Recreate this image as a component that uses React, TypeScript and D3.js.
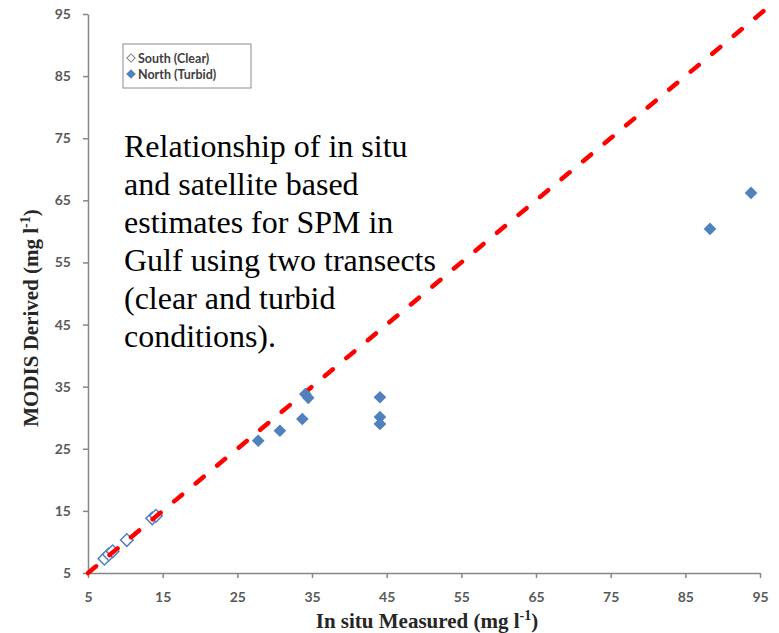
import React, { useEffect, useRef } from 'react';
import * as d3 from 'd3';

// South (clear) transect: in situ vs MODIS
const southInSitu = [7.2, 7.8, 8.3, 10.2, 13.6, 14.1];
const southModis = [7.3, 8.0, 8.5, 10.3, 13.8, 14.2];

// North (turbid) transect
const northInSitu = [27.8, 30.7, 33.7, 34.1, 34.5, 44.1, 44.1, 44.1, 88.3, 93.8];
const northModis = [26.3, 27.9, 29.8, 33.8, 33.2, 33.3, 30.1, 29.0, 60.4, 66.2];

const tickValues = [5, 15, 25, 35, 45, 55, 65, 75, 85, 95];
const oneToOne = [5, 96.6];

const noteLines = [
  'Relationship of in situ',
  'and satellite based',
  'estimates for SPM in',
  'Gulf using two transects',
  '(clear and turbid',
  'conditions).',
];

const legendLabels = ['South (Clear)', 'North (Turbid)'];

const App = () => {
  const svgRef = useRef(null);
  const width = 779;
  const height = 633;

  useEffect(() => {
    const svg = d3.select(svgRef.current);
    svg.selectAll('*').remove();

    const x = d3.scaleLinear().domain([5, 95]).range([88, 760]);
    const y = d3.scaleLinear().domain([5, 95]).range([573, 14]);
    const axisColor = '#868686';
    const blue = '#4F81BD';
    const tickFont = 'Lato, "Open Sans", sans-serif';
    const serif = '"Liberation Serif", "Times New Roman", serif';

    // x axis
    const xAxis = svg.append('g')
      .attr('transform', `translate(0, ${y(5)})`)
      .call(d3.axisBottom(x).tickValues(tickValues).tickSize(5).tickPadding(14).tickSizeOuter(0));
    xAxis.select('.domain').attr('stroke', axisColor).attr('stroke-width', 1.5);
    xAxis.selectAll('line').attr('stroke', axisColor).attr('stroke-width', 1.5);
    xAxis.selectAll('text').attr('fill', '#595959').attr('font-family', tickFont).attr('font-size', 14).attr('font-weight', 'bold');

    // y axis
    const yAxis = svg.append('g')
      .attr('transform', `translate(${x(5)}, 0)`)
      .call(d3.axisLeft(y).tickValues(tickValues).tickSize(5).tickPadding(12).tickSizeOuter(0));
    yAxis.select('.domain').attr('stroke', axisColor).attr('stroke-width', 1.5);
    yAxis.selectAll('line').attr('stroke', axisColor).attr('stroke-width', 1.5);
    yAxis.selectAll('text').attr('fill', '#595959').attr('font-family', tickFont).attr('font-size', 14).attr('font-weight', 'bold');

    // diamond = square turned 45 degrees
    const diamond = d3.symbol().type(d3.symbolSquare).size(80);

    // South (open diamonds)
    svg.append('g')
      .selectAll('path')
      .data(southInSitu)
      .join('path')
      .attr('d', diamond)
      .attr('transform', (d, i) => `translate(${x(d)}, ${y(southModis[i])}) rotate(45)`)
      .attr('fill', '#fff')
      .attr('stroke', blue)
      .attr('stroke-width', 1.5);

    // 1:1 line
    svg.append('line')
      .attr('x1', x(oneToOne[0]))
      .attr('y1', y(oneToOne[0]))
      .attr('x2', x(oneToOne[1]))
      .attr('y2', y(oneToOne[1]))
      .attr('stroke', '#FF0000')
      .attr('stroke-width', 4.5)
      .attr('stroke-linecap', 'round')
      .attr('stroke-dasharray', '10.5 17.5');

    // North (filled diamonds)
    svg.append('g')
      .selectAll('path')
      .data(northInSitu)
      .join('path')
      .attr('d', diamond)
      .attr('transform', (d, i) => `translate(${x(d)}, ${y(northModis[i])}) rotate(45)`)
      .attr('fill', blue);

    // legend
    const legend = svg.append('g');
    legend.append('rect')
      .attr('x', 123).attr('y', 44).attr('width', 128).attr('height', 44)
      .attr('fill', '#fff').attr('stroke', '#8c8c8c').attr('stroke-width', 1);
    legendLabels.forEach((label, i) => {
      const ly = 58 + i * 16;
      legend.append('path')
        .attr('d', d3.symbol().type(d3.symbolSquare).size(34))
        .attr('transform', `translate(131, ${ly}) rotate(45)`)
        .attr('fill', i === 0 ? '#fff' : blue)
        .attr('stroke', i === 0 ? '#7f7f7f' : blue)
        .attr('stroke-width', 1);
      legend.append('text')
        .attr('x', 138).attr('y', ly + 4.5)
        .attr('font-family', tickFont).attr('font-size', 12.5).attr('font-weight', 'bold')
        .attr('fill', '#404040')
        .text(label);
    });

    // annotation
    const note = svg.append('text')
      .attr('font-family', serif)
      .attr('font-size', 32)
      .attr('fill', '#000');
    noteLines.forEach((line, i) => {
      note.append('tspan').attr('x', 124).attr('y', 157 + i * 38).text(line);
    });

    // axis titles
    const xTitle = svg.append('text')
      .attr('x', 427).attr('y', 628)
      .attr('text-anchor', 'middle')
      .attr('font-family', serif).attr('font-size', 21).attr('font-weight', 'bold')
      .attr('fill', '#262626');
    xTitle.append('tspan').text('In situ Measured (mg l');
    xTitle.append('tspan').attr('dy', -8).attr('font-size', 14).text('-1');
    xTitle.append('tspan').attr('dy', 8).text(')');

    const yTitle = svg.append('text')
      .attr('transform', 'translate(38, 318) rotate(-90)')
      .attr('text-anchor', 'middle')
      .attr('font-family', serif).attr('font-size', 21).attr('font-weight', 'bold')
      .attr('fill', '#262626');
    yTitle.append('tspan').text('MODIS Derived (mg l');
    yTitle.append('tspan').attr('dy', -8).attr('font-size', 14).text('-1');
    yTitle.append('tspan').attr('dy', 8).text(')');
  }, []);

  return (
    <svg
      ref={svgRef}
      width={width}
      height={height}
      style={{ position: 'absolute', left: 0, top: 0, background: '#fff' }}
    />
  );
};

export default App;
